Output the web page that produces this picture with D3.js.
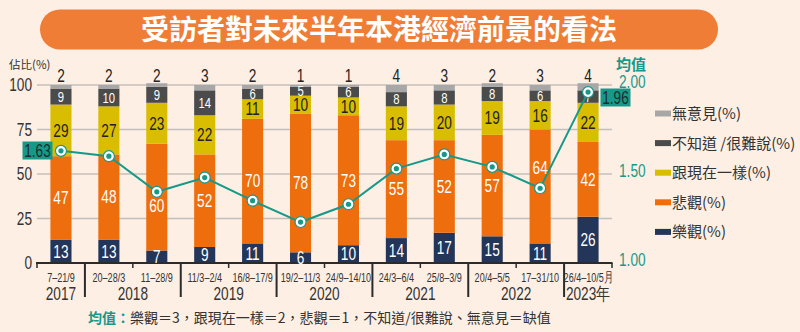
<!DOCTYPE html>
<html><head><meta charset="utf-8">
<script src="https://cdn.jsdelivr.net/npm/d3@7"></script>
<style>
html,body{margin:0;padding:0;background:#fdefe4;}
svg{display:block;}
text{font-family:"Liberation Sans",Arial,sans-serif;}
.cjk{font-family:"Noto Sans CJK TC","Liberation Sans",sans-serif;}
</style></head>
<body>
<svg id="chart" width="800" height="332"></svg>
<script>
const dates = ["7–21/9","20–28/3","11–28/9","11/3–2/4","16/8–17/9","19/2–11/3","24/9–14/10","24/3–6/4","25/8–3/9","20/4–5/5","17–31/10","26/4–10/5月"];
const years = ["2017","2018","2019","2020","2021","2022","2023年"];
const yearSpans = [1,2,2,2,2,2,1];
const optimistic = [13,13,7,9,11,6,10,14,17,15,11,26];
const pessimistic = [47,48,60,52,70,78,73,55,52,57,64,42];
const same = [29,27,23,22,11,10,10,19,20,19,16,22];
const dontKnow = [9,10,9,14,6,5,6,8,8,8,6,7];
const noOpinion = [2,2,2,3,2,1,1,4,3,2,3,4];
const meanValues = [1.63,1.60,1.40,1.48,1.35,1.23,1.33,1.53,1.61,1.54,1.42,1.96];
const leftTicks = [0,25,50,75,100];
const rightTicks = [1.00,1.50,2.00];
const seriesKeys = ["opt","pess","same","dk","none"];
const legendLabels = ["無意見(%)","不知道 /很難說(%)","跟現在一樣(%)","悲觀(%)","樂觀(%)"];
const legendKeys = ["none","dk","same","pess","opt"];

const colors = {opt:"#233659", pess:"#ee6d0c", same:"#d8bd00", dk:"#4b4b4b", none:"#a7a7a7"};
const labelColors = {opt:"#fff", pess:"#fff", same:"#222", dk:"#fff", none:"#222"};
const teal = "#17998a";
const SX = 0.78;

const rows = dates.map((d,i)=>({date:d, opt:optimistic[i], pess:pessimistic[i], same:same[i], dk:dontKnow[i], none:noOpinion[i], mean:meanValues[i]}));

const svg = d3.select("#chart");
svg.append("rect").attr("width",800).attr("height",332).attr("fill","#fdefe4");

function ctext(parent, tx, ty, str, opts){
  opts = opts||{};
  return parent.append("text")
    .attr("transform",`translate(${tx},${ty}) scale(${opts.sx||SX},1)`)
    .attr("text-anchor",opts.anchor||"middle")
    .attr("font-size",opts.size||17.5)
    .attr("fill",opts.fill||"#333")
    .text(str);
}

// Title
svg.append("rect").attr("x",40).attr("y",9.5).attr("width",678).attr("height",40).attr("rx",20).attr("fill","#ef7d36");
svg.append("text").attr("class","cjk").attr("x",379).attr("y",40).attr("text-anchor","middle")
  .attr("fill","#fff").attr("font-size",28).attr("font-weight","bold").text("受訪者對未來半年本港經濟前景的看法");

const x = d3.scaleBand().domain(dates).range([37,612]).paddingInner(0.56).paddingOuter(0.28);
const y = d3.scaleLinear().domain([0,100]).range([263,85]);
const yR = d3.scaleLinear().domain([1,2]).range([263,85]);

svg.append("g").selectAll("line").data(leftTicks.filter(t=>t>0)).join("line")
  .attr("x1",37).attr("x2",612).attr("y1",d=>y(d)).attr("y2",d=>y(d))
  .attr("stroke","#c4bfba").attr("stroke-width",1.5);

const lt = svg.append("g");
leftTicks.forEach(t=>ctext(lt, 32, y(t)+6, t, {anchor:"end"}));
svg.append("text").attr("class","cjk").attr("x",9).attr("y",69).attr("font-size",11.5).attr("fill","#333").text("佔比(%)");

const rt = svg.append("g");
rightTicks.forEach(t=>ctext(rt, 619, yR(t)+3, t.toFixed(2), {anchor:"start", fill:teal}));
svg.append("text").attr("class","cjk").attr("x",616).attr("y",70).attr("font-size",15).attr("font-weight","bold").attr("fill",teal).text("均值");

// stacked bars
const stack = d3.stack().keys(seriesKeys)(rows);
const g = svg.append("g");
stack.forEach(layer=>{
  g.append("g").selectAll("rect").data(layer).join("rect")
    .attr("x",d=>x(d.data.date)).attr("width",x.bandwidth())
    .attr("y",d=>y(d[1])).attr("height",d=>y(d[0])-y(d[1]))
    .attr("fill",colors[layer.key]);
});

// x axis
svg.append("line").attr("x1",36).attr("x2",612.5).attr("y1",263).attr("y2",263).attr("stroke","#2b2b2b").attr("stroke-width",2);
const step = x.step(), x0 = x.range()[0];
let boundaries = [0];
let acc = 0; yearSpans.forEach(s=>{acc+=s; boundaries.push(acc);});
const axg = svg.append("g");
d3.range(0,dates.length+1).forEach(i=>{
  const bx = x0 + i*step;
  const major = boundaries.includes(i) && i>0 && i<dates.length;
  axg.append("line").attr("x1",bx).attr("x2",bx).attr("y1",263).attr("y2",major?297:268)
    .attr("stroke","#2b2b2b").attr("stroke-width",major?2:1.5);
});
dates.forEach(d=>ctext(axg, x(d)+x.bandwidth()/2, 282, d, {size:13.5, sx:0.67}));
let start = 0;
years.forEach((yr,j)=>{
  const i0 = start, i1 = start + yearSpans[j] - 1;
  const cx = (x(dates[i0]) + x(dates[i1]))/2 + x.bandwidth()/2;
  ctext(axg, cx, 299.5, yr, {size:17.5});
  start += yearSpans[j];
});

// mean line
const line = d3.line().x(d=>x(d.date)+x.bandwidth()/2).y(d=>yR(d.mean));
svg.append("path").datum(rows).attr("d",line).attr("fill","none").attr("stroke",teal).attr("stroke-width",2);

// segment labels
const lg0 = svg.append("g");
stack.forEach(layer=>{
  const k = layer.key;
  layer.forEach(d=>{
    const cx = x(d.data.date)+x.bandwidth()/2;
    const size = k==="dk" ? 14.5 : 17.5;
    let mid = k==="none" ? null : (y(d[0])+y(d[1]))/2;
    if(k==="pess"){
      const dy = yR(d.data.mean);
      if(Math.abs(mid-dy) < 13){ mid = mid >= dy ? dy + 14 : dy - 21; }
    }
    const cy = k==="none" ? y(100)-3.5 : mid + size*0.36;
    ctext(lg0, cx, cy, d.data[k], {size:size, fill:labelColors[k]});
  });
});

const dots = svg.append("g").selectAll("g").data(rows).join("g")
  .attr("transform",d=>`translate(${x(d.date)+x.bandwidth()/2},${yR(d.mean)})`);
dots.append("circle").attr("r",5.5).attr("fill","#fff").attr("stroke",teal).attr("stroke-width",1.2);
dots.append("circle").attr("r",2.6).attr("fill",teal);

function callout(i, bx, by){
  svg.append("rect").attr("x",bx).attr("y",by).attr("width",30).attr("height",18).attr("fill",teal);
  ctext(svg, bx+15, by+15, meanValues[i].toFixed(2), {size:17.5, fill:"#1e2b2a"});
}
callout(0, 22.5, 141.5);
callout(11, 600.5, 88.5);

// legend
const lg = svg.append("g");
legendKeys.forEach((k,i)=>{
  const ly = 113.5 + i*29.6;
  lg.append("rect").attr("x",655).attr("y",ly-3).attr("width",16).attr("height",6).attr("fill",colors[k]);
  lg.append("text").attr("class","cjk").attr("x",672).attr("y",ly+5.5).attr("font-size",15).attr("fill","#333").text(legendLabels[i]);
});

// footer
const ft = svg.append("text").attr("class","cjk").attr("x",88).attr("y",323).attr("font-size",14);
ft.append("tspan").attr("fill",teal).attr("font-weight","bold").text("均值：");
ft.append("tspan").attr("fill","#333").text("樂觀＝3，跟現在一樣＝2，悲觀＝1，不知道/很難說、無意見＝缺值");
</script>
</body></html>
